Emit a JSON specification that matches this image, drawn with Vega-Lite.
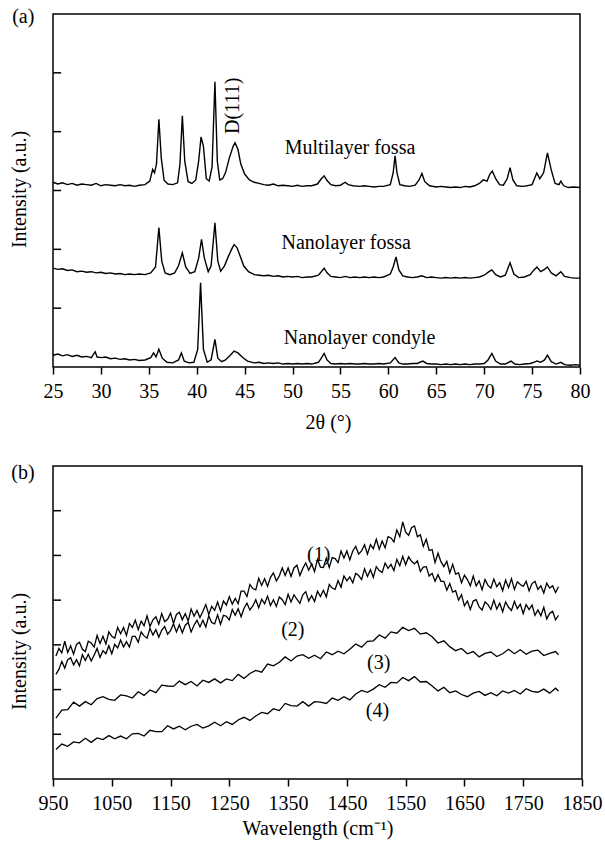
{
"$schema": "https://vega.github.io/schema/vega-lite/v6.json",
"padding": {"left": 8, "top": 6, "right": 5, "bottom": 5},
"spacing": 28,
"config": {
 "font": "Liberation Serif",
 "view": {"stroke": "black", "strokeWidth": 1.5},
 "axis": {"labelFont": "Liberation Serif", "titleFont": "Liberation Serif", "labelFontSize": 20, "titleFontSize": 20, "titleFontWeight": "normal", "labelColor": "black", "titleColor": "black", "domain": false, "tickColor": "black", "tickWidth": 1.5, "grid": false, "labelFlush": false, "labelOverlap": false},
 "text": {"font": "Liberation Serif", "fontSize": 20, "color": "black"}
},
"datasets": {
"xrd": [
{"s":"m","x":25,"y":3.14},{"s":"m","x":25.5,"y":3.11},{"s":"m","x":26,"y":3.13},{"s":"m","x":26.5,"y":3.10},{"s":"m","x":27,"y":3.12},{"s":"m","x":27.5,"y":3.09},{"s":"m","x":28,"y":3.11},{"s":"m","x":28.5,"y":3.10},{"s":"m","x":29,"y":3.09},{"s":"m","x":29.5,"y":3.12},{"s":"m","x":30,"y":3.08},{"s":"m","x":30.5,"y":3.10},{"s":"m","x":31,"y":3.09},{"s":"m","x":31.5,"y":3.08},{"s":"m","x":32,"y":3.10},{"s":"m","x":32.5,"y":3.08},{"s":"m","x":33,"y":3.09},{"s":"m","x":33.5,"y":3.07},{"s":"m","x":34,"y":3.09},{"s":"m","x":34.6,"y":3.10},{"s":"m","x":35.1,"y":3.16},{"s":"m","x":35.4,"y":3.36},{"s":"m","x":35.6,"y":3.30},{"s":"m","x":35.8,"y":3.45},{"s":"m","x":36.05,"y":4.21},{"s":"m","x":36.3,"y":3.55},{"s":"m","x":36.6,"y":3.17},{"s":"m","x":37,"y":3.11},{"s":"m","x":37.5,"y":3.10},{"s":"m","x":38.0,"y":3.13},{"s":"m","x":38.25,"y":3.45},{"s":"m","x":38.5,"y":4.27},{"s":"m","x":38.75,"y":3.50},{"s":"m","x":39.1,"y":3.15},{"s":"m","x":39.5,"y":3.12},{"s":"m","x":39.9,"y":3.18},{"s":"m","x":40.2,"y":3.50},{"s":"m","x":40.45,"y":3.91},{"s":"m","x":40.7,"y":3.75},{"s":"m","x":41.0,"y":3.20},{"s":"m","x":41.3,"y":3.16},{"s":"m","x":41.6,"y":3.40},{"s":"m","x":41.9,"y":4.85},{"s":"m","x":42.15,"y":3.50},{"s":"m","x":42.4,"y":3.18},{"s":"m","x":42.7,"y":3.20},{"s":"m","x":43.0,"y":3.30},{"s":"m","x":43.4,"y":3.55},{"s":"m","x":43.8,"y":3.75},{"s":"m","x":44.0,"y":3.81},{"s":"m","x":44.3,"y":3.70},{"s":"m","x":44.6,"y":3.45},{"s":"m","x":45.0,"y":3.28},{"s":"m","x":45.5,"y":3.18},{"s":"m","x":46,"y":3.14},{"s":"m","x":46.5,"y":3.12},{"s":"m","x":47,"y":3.10},{"s":"m","x":47.5,"y":3.09},{"s":"m","x":48,"y":3.11},{"s":"m","x":48.5,"y":3.08},{"s":"m","x":49,"y":3.09},{"s":"m","x":49.5,"y":3.08},{"s":"m","x":50,"y":3.07},{"s":"m","x":50.5,"y":3.09},{"s":"m","x":51,"y":3.07},{"s":"m","x":51.5,"y":3.08},{"s":"m","x":52,"y":3.08},{"s":"m","x":52.6,"y":3.11},{"s":"m","x":53.0,"y":3.20},{"s":"m","x":53.3,"y":3.25},{"s":"m","x":53.6,"y":3.17},{"s":"m","x":54,"y":3.10},{"s":"m","x":54.5,"y":3.08},{"s":"m","x":55,"y":3.09},{"s":"m","x":55.5,"y":3.14},{"s":"m","x":55.8,"y":3.10},{"s":"m","x":56.3,"y":3.08},{"s":"m","x":57,"y":3.07},{"s":"m","x":57.5,"y":3.08},{"s":"m","x":58,"y":3.07},{"s":"m","x":58.5,"y":3.06},{"s":"m","x":59,"y":3.07},{"s":"m","x":59.5,"y":3.07},{"s":"m","x":60.2,"y":3.10},{"s":"m","x":60.5,"y":3.30},{"s":"m","x":60.7,"y":3.59},{"s":"m","x":60.9,"y":3.30},{"s":"m","x":61.2,"y":3.10},{"s":"m","x":61.7,"y":3.08},{"s":"m","x":62.2,"y":3.07},{"s":"m","x":62.8,"y":3.09},{"s":"m","x":63.2,"y":3.18},{"s":"m","x":63.5,"y":3.29},{"s":"m","x":63.8,"y":3.15},{"s":"m","x":64.3,"y":3.08},{"s":"m","x":65,"y":3.06},{"s":"m","x":65.5,"y":3.07},{"s":"m","x":66,"y":3.06},{"s":"m","x":66.5,"y":3.05},{"s":"m","x":67,"y":3.06},{"s":"m","x":67.5,"y":3.05},{"s":"m","x":68,"y":3.07},{"s":"m","x":68.5,"y":3.06},{"s":"m","x":69,"y":3.08},{"s":"m","x":69.5,"y":3.12},{"s":"m","x":69.9,"y":3.18},{"s":"m","x":70.3,"y":3.16},{"s":"m","x":70.6,"y":3.28},{"s":"m","x":70.85,"y":3.33},{"s":"m","x":71.2,"y":3.20},{"s":"m","x":71.6,"y":3.10},{"s":"m","x":72,"y":3.09},{"s":"m","x":72.4,"y":3.20},{"s":"m","x":72.7,"y":3.39},{"s":"m","x":73.0,"y":3.18},{"s":"m","x":73.4,"y":3.08},{"s":"m","x":74,"y":3.07},{"s":"m","x":74.5,"y":3.08},{"s":"m","x":75,"y":3.10},{"s":"m","x":75.3,"y":3.22},{"s":"m","x":75.5,"y":3.30},{"s":"m","x":75.8,"y":3.20},{"s":"m","x":76.2,"y":3.30},{"s":"m","x":76.6,"y":3.64},{"s":"m","x":77.0,"y":3.35},{"s":"m","x":77.4,"y":3.12},{"s":"m","x":77.8,"y":3.10},{"s":"m","x":78.0,"y":3.16},{"s":"m","x":78.3,"y":3.08},{"s":"m","x":78.8,"y":3.05},{"s":"m","x":79.3,"y":3.06},{"s":"m","x":80,"y":3.05},
{"s":"n","x":25,"y":1.68},{"s":"n","x":25.5,"y":1.66},{"s":"n","x":26,"y":1.67},{"s":"n","x":26.5,"y":1.64},{"s":"n","x":27,"y":1.65},{"s":"n","x":27.5,"y":1.62},{"s":"n","x":28,"y":1.63},{"s":"n","x":28.5,"y":1.61},{"s":"n","x":29,"y":1.62},{"s":"n","x":29.5,"y":1.60},{"s":"n","x":30,"y":1.61},{"s":"n","x":30.5,"y":1.59},{"s":"n","x":31,"y":1.60},{"s":"n","x":31.5,"y":1.58},{"s":"n","x":32,"y":1.59},{"s":"n","x":32.5,"y":1.57},{"s":"n","x":33,"y":1.58},{"s":"n","x":33.5,"y":1.57},{"s":"n","x":34,"y":1.58},{"s":"n","x":34.6,"y":1.57},{"s":"n","x":35.2,"y":1.60},{"s":"n","x":35.7,"y":1.70},{"s":"n","x":36.05,"y":2.37},{"s":"n","x":36.35,"y":1.80},{"s":"n","x":36.7,"y":1.60},{"s":"n","x":37.2,"y":1.57},{"s":"n","x":37.7,"y":1.60},{"s":"n","x":38.1,"y":1.72},{"s":"n","x":38.5,"y":1.94},{"s":"n","x":38.85,"y":1.70},{"s":"n","x":39.3,"y":1.59},{"s":"n","x":39.8,"y":1.62},{"s":"n","x":40.2,"y":1.85},{"s":"n","x":40.5,"y":2.17},{"s":"n","x":40.8,"y":1.85},{"s":"n","x":41.2,"y":1.62},{"s":"n","x":41.5,"y":1.72},{"s":"n","x":41.9,"y":2.45},{"s":"n","x":42.2,"y":1.80},{"s":"n","x":42.5,"y":1.63},{"s":"n","x":42.9,"y":1.72},{"s":"n","x":43.3,"y":1.88},{"s":"n","x":43.7,"y":2.02},{"s":"n","x":43.9,"y":2.08},{"s":"n","x":44.2,"y":2.03},{"s":"n","x":44.5,"y":1.90},{"s":"n","x":44.9,"y":1.72},{"s":"n","x":45.4,"y":1.62},{"s":"n","x":46,"y":1.57},{"s":"n","x":46.5,"y":1.56},{"s":"n","x":47,"y":1.55},{"s":"n","x":47.5,"y":1.56},{"s":"n","x":48,"y":1.54},{"s":"n","x":48.5,"y":1.55},{"s":"n","x":49,"y":1.53},{"s":"n","x":49.5,"y":1.54},{"s":"n","x":50,"y":1.53},{"s":"n","x":50.5,"y":1.54},{"s":"n","x":51,"y":1.52},{"s":"n","x":51.5,"y":1.53},{"s":"n","x":52,"y":1.53},{"s":"n","x":52.7,"y":1.56},{"s":"n","x":53.0,"y":1.62},{"s":"n","x":53.3,"y":1.68},{"s":"n","x":53.6,"y":1.60},{"s":"n","x":54,"y":1.54},{"s":"n","x":54.5,"y":1.53},{"s":"n","x":55,"y":1.52},{"s":"n","x":55.5,"y":1.54},{"s":"n","x":56,"y":1.52},{"s":"n","x":56.5,"y":1.53},{"s":"n","x":57,"y":1.52},{"s":"n","x":57.5,"y":1.53},{"s":"n","x":58,"y":1.52},{"s":"n","x":58.5,"y":1.53},{"s":"n","x":59,"y":1.52},{"s":"n","x":59.5,"y":1.53},{"s":"n","x":60.2,"y":1.58},{"s":"n","x":60.5,"y":1.70},{"s":"n","x":60.8,"y":1.87},{"s":"n","x":61.1,"y":1.65},{"s":"n","x":61.5,"y":1.55},{"s":"n","x":62,"y":1.53},{"s":"n","x":62.5,"y":1.52},{"s":"n","x":63,"y":1.53},{"s":"n","x":63.5,"y":1.55},{"s":"n","x":64,"y":1.52},{"s":"n","x":64.5,"y":1.53},{"s":"n","x":65,"y":1.52},{"s":"n","x":65.5,"y":1.51},{"s":"n","x":66,"y":1.52},{"s":"n","x":66.5,"y":1.51},{"s":"n","x":67,"y":1.52},{"s":"n","x":67.5,"y":1.51},{"s":"n","x":68,"y":1.52},{"s":"n","x":68.5,"y":1.51},{"s":"n","x":69,"y":1.52},{"s":"n","x":69.5,"y":1.53},{"s":"n","x":70,"y":1.56},{"s":"n","x":70.5,"y":1.62},{"s":"n","x":70.8,"y":1.65},{"s":"n","x":71.2,"y":1.57},{"s":"n","x":71.7,"y":1.53},{"s":"n","x":72.2,"y":1.56},{"s":"n","x":72.7,"y":1.77},{"s":"n","x":73.1,"y":1.58},{"s":"n","x":73.6,"y":1.52},{"s":"n","x":74.2,"y":1.53},{"s":"n","x":74.8,"y":1.57},{"s":"n","x":75.2,"y":1.65},{"s":"n","x":75.5,"y":1.70},{"s":"n","x":75.9,"y":1.62},{"s":"n","x":76.3,"y":1.66},{"s":"n","x":76.6,"y":1.70},{"s":"n","x":77.0,"y":1.60},{"s":"n","x":77.5,"y":1.55},{"s":"n","x":78.0,"y":1.62},{"s":"n","x":78.4,"y":1.54},{"s":"n","x":79,"y":1.52},{"s":"n","x":79.5,"y":1.51},{"s":"n","x":80,"y":1.51},
{"s":"c","x":25,"y":0.20},{"s":"c","x":25.5,"y":0.22},{"s":"c","x":26,"y":0.19},{"s":"c","x":26.5,"y":0.21},{"s":"c","x":27,"y":0.18},{"s":"c","x":27.5,"y":0.20},{"s":"c","x":28,"y":0.17},{"s":"c","x":28.5,"y":0.18},{"s":"c","x":29,"y":0.16},{"s":"c","x":29.4,"y":0.26},{"s":"c","x":29.6,"y":0.17},{"s":"c","x":30,"y":0.16},{"s":"c","x":30.5,"y":0.17},{"s":"c","x":31,"y":0.14},{"s":"c","x":31.5,"y":0.15},{"s":"c","x":32,"y":0.13},{"s":"c","x":32.5,"y":0.14},{"s":"c","x":33,"y":0.12},{"s":"c","x":33.5,"y":0.13},{"s":"c","x":34,"y":0.11},{"s":"c","x":34.6,"y":0.12},{"s":"c","x":35.2,"y":0.16},{"s":"c","x":35.5,"y":0.24},{"s":"c","x":35.75,"y":0.17},{"s":"c","x":36.05,"y":0.30},{"s":"c","x":36.4,"y":0.15},{"s":"c","x":36.9,"y":0.08},{"s":"c","x":37.5,"y":0.07},{"s":"c","x":38.1,"y":0.12},{"s":"c","x":38.4,"y":0.24},{"s":"c","x":38.7,"y":0.10},{"s":"c","x":39.2,"y":0.07},{"s":"c","x":39.7,"y":0.08},{"s":"c","x":40.1,"y":0.30},{"s":"c","x":40.4,"y":1.43},{"s":"c","x":40.7,"y":0.30},{"s":"c","x":41.1,"y":0.08},{"s":"c","x":41.5,"y":0.12},{"s":"c","x":41.9,"y":0.47},{"s":"c","x":42.2,"y":0.15},{"s":"c","x":42.6,"y":0.09},{"s":"c","x":43.0,"y":0.12},{"s":"c","x":43.5,"y":0.20},{"s":"c","x":43.9,"y":0.27},{"s":"c","x":44.3,"y":0.24},{"s":"c","x":44.8,"y":0.16},{"s":"c","x":45.3,"y":0.10},{"s":"c","x":46,"y":0.07},{"s":"c","x":46.5,"y":0.08},{"s":"c","x":47,"y":0.06},{"s":"c","x":47.5,"y":0.07},{"s":"c","x":48,"y":0.06},{"s":"c","x":48.5,"y":0.07},{"s":"c","x":49,"y":0.05},{"s":"c","x":49.5,"y":0.06},{"s":"c","x":50,"y":0.05},{"s":"c","x":50.5,"y":0.06},{"s":"c","x":51,"y":0.05},{"s":"c","x":51.5,"y":0.06},{"s":"c","x":52,"y":0.05},{"s":"c","x":52.7,"y":0.08},{"s":"c","x":53.0,"y":0.15},{"s":"c","x":53.3,"y":0.23},{"s":"c","x":53.6,"y":0.12},{"s":"c","x":54,"y":0.06},{"s":"c","x":54.5,"y":0.05},{"s":"c","x":55,"y":0.06},{"s":"c","x":55.5,"y":0.05},{"s":"c","x":56,"y":0.06},{"s":"c","x":56.5,"y":0.05},{"s":"c","x":57,"y":0.05},{"s":"c","x":57.5,"y":0.06},{"s":"c","x":58,"y":0.05},{"s":"c","x":58.5,"y":0.05},{"s":"c","x":59,"y":0.06},{"s":"c","x":59.5,"y":0.05},{"s":"c","x":60.2,"y":0.07},{"s":"c","x":60.7,"y":0.16},{"s":"c","x":61.1,"y":0.07},{"s":"c","x":61.5,"y":0.05},{"s":"c","x":62,"y":0.05},{"s":"c","x":62.5,"y":0.06},{"s":"c","x":63,"y":0.06},{"s":"c","x":63.6,"y":0.10},{"s":"c","x":64,"y":0.06},{"s":"c","x":64.5,"y":0.05},{"s":"c","x":65,"y":0.05},{"s":"c","x":65.5,"y":0.04},{"s":"c","x":66,"y":0.05},{"s":"c","x":66.5,"y":0.04},{"s":"c","x":67,"y":0.05},{"s":"c","x":67.5,"y":0.04},{"s":"c","x":68,"y":0.05},{"s":"c","x":68.5,"y":0.04},{"s":"c","x":69,"y":0.05},{"s":"c","x":69.5,"y":0.05},{"s":"c","x":70,"y":0.06},{"s":"c","x":70.4,"y":0.12},{"s":"c","x":70.8,"y":0.23},{"s":"c","x":71.2,"y":0.10},{"s":"c","x":71.7,"y":0.05},{"s":"c","x":72.2,"y":0.05},{"s":"c","x":72.8,"y":0.10},{"s":"c","x":73.2,"y":0.05},{"s":"c","x":73.7,"y":0.04},{"s":"c","x":74.2,"y":0.05},{"s":"c","x":74.8,"y":0.06},{"s":"c","x":75.2,"y":0.08},{"s":"c","x":75.5,"y":0.10},{"s":"c","x":75.9,"y":0.08},{"s":"c","x":76.3,"y":0.12},{"s":"c","x":76.6,"y":0.20},{"s":"c","x":77.0,"y":0.09},{"s":"c","x":77.5,"y":0.05},{"s":"c","x":78.0,"y":0.08},{"s":"c","x":78.4,"y":0.04},{"s":"c","x":79,"y":0.03},{"s":"c","x":79.5,"y":0.04},{"s":"c","x":80,"y":0.03}
],
"raman": [
{"s":"1","x":955,"y":2.75},{"s":"1","x":960,"y":2.92},{"s":"1","x":965,"y":2.82},{"s":"1","x":970,"y":3.08},{"s":"1","x":975,"y":2.83},{"s":"1","x":980,"y":2.98},{"s":"1","x":985,"y":2.79},{"s":"1","x":990,"y":3.01},{"s":"1","x":995,"y":3.06},{"s":"1","x":1000,"y":2.90},{"s":"1","x":1005,"y":2.85},{"s":"1","x":1010,"y":3.08},{"s":"1","x":1015,"y":3.04},{"s":"1","x":1020,"y":2.95},{"s":"1","x":1025,"y":3.21},{"s":"1","x":1030,"y":3.03},{"s":"1","x":1035,"y":3.19},{"s":"1","x":1040,"y":3.02},{"s":"1","x":1045,"y":3.29},{"s":"1","x":1050,"y":3.19},{"s":"1","x":1055,"y":3.15},{"s":"1","x":1060,"y":3.39},{"s":"1","x":1065,"y":3.25},{"s":"1","x":1070,"y":3.39},{"s":"1","x":1075,"y":3.21},{"s":"1","x":1080,"y":3.48},{"s":"1","x":1085,"y":3.39},{"s":"1","x":1090,"y":3.55},{"s":"1","x":1095,"y":3.34},{"s":"1","x":1100,"y":3.53},{"s":"1","x":1105,"y":3.43},{"s":"1","x":1110,"y":3.65},{"s":"1","x":1115,"y":3.41},{"s":"1","x":1120,"y":3.56},{"s":"1","x":1125,"y":3.63},{"s":"1","x":1130,"y":3.46},{"s":"1","x":1135,"y":3.70},{"s":"1","x":1140,"y":3.52},{"s":"1","x":1145,"y":3.57},{"s":"1","x":1150,"y":3.71},{"s":"1","x":1155,"y":3.48},{"s":"1","x":1160,"y":3.68},{"s":"1","x":1165,"y":3.73},{"s":"1","x":1170,"y":3.56},{"s":"1","x":1175,"y":3.70},{"s":"1","x":1180,"y":3.53},{"s":"1","x":1185,"y":3.80},{"s":"1","x":1190,"y":3.64},{"s":"1","x":1195,"y":3.77},{"s":"1","x":1200,"y":3.61},{"s":"1","x":1205,"y":3.75},{"s":"1","x":1210,"y":3.90},{"s":"1","x":1215,"y":3.68},{"s":"1","x":1220,"y":3.86},{"s":"1","x":1225,"y":3.77},{"s":"1","x":1230,"y":3.96},{"s":"1","x":1235,"y":3.76},{"s":"1","x":1240,"y":3.98},{"s":"1","x":1245,"y":3.89},{"s":"1","x":1250,"y":4.08},{"s":"1","x":1255,"y":3.91},{"s":"1","x":1260,"y":4.04},{"s":"1","x":1265,"y":3.92},{"s":"1","x":1270,"y":4.20},{"s":"1","x":1275,"y":4.20},{"s":"1","x":1280,"y":4.08},{"s":"1","x":1285,"y":4.35},{"s":"1","x":1290,"y":4.26},{"s":"1","x":1295,"y":4.23},{"s":"1","x":1300,"y":4.49},{"s":"1","x":1305,"y":4.33},{"s":"1","x":1310,"y":4.48},{"s":"1","x":1315,"y":4.31},{"s":"1","x":1320,"y":4.51},{"s":"1","x":1325,"y":4.61},{"s":"1","x":1330,"y":4.43},{"s":"1","x":1335,"y":4.54},{"s":"1","x":1340,"y":4.72},{"s":"1","x":1345,"y":4.55},{"s":"1","x":1350,"y":4.72},{"s":"1","x":1355,"y":4.53},{"s":"1","x":1360,"y":4.72},{"s":"1","x":1365,"y":4.78},{"s":"1","x":1370,"y":4.55},{"s":"1","x":1375,"y":4.71},{"s":"1","x":1380,"y":4.83},{"s":"1","x":1385,"y":4.67},{"s":"1","x":1390,"y":4.81},{"s":"1","x":1395,"y":4.64},{"s":"1","x":1400,"y":4.91},{"s":"1","x":1405,"y":4.74},{"s":"1","x":1410,"y":4.73},{"s":"1","x":1415,"y":4.94},{"s":"1","x":1420,"y":4.73},{"s":"1","x":1425,"y":4.95},{"s":"1","x":1430,"y":4.93},{"s":"1","x":1435,"y":4.84},{"s":"1","x":1440,"y":5.10},{"s":"1","x":1445,"y":4.94},{"s":"1","x":1450,"y":5.10},{"s":"1","x":1455,"y":4.90},{"s":"1","x":1460,"y":5.10},{"s":"1","x":1465,"y":5.20},{"s":"1","x":1470,"y":5.03},{"s":"1","x":1475,"y":5.10},{"s":"1","x":1480,"y":5.24},{"s":"1","x":1485,"y":5.03},{"s":"1","x":1490,"y":5.24},{"s":"1","x":1495,"y":5.15},{"s":"1","x":1500,"y":5.36},{"s":"1","x":1505,"y":5.14},{"s":"1","x":1510,"y":5.32},{"s":"1","x":1515,"y":5.17},{"s":"1","x":1520,"y":5.42},{"s":"1","x":1525,"y":5.39},{"s":"1","x":1530,"y":5.30},{"s":"1","x":1535,"y":5.57},{"s":"1","x":1540,"y":5.42},{"s":"1","x":1545,"y":5.75},{"s":"1","x":1550,"y":5.52},{"s":"1","x":1555,"y":5.45},{"s":"1","x":1560,"y":5.62},{"s":"1","x":1565,"y":5.66},{"s":"1","x":1570,"y":5.42},{"s":"1","x":1575,"y":5.46},{"s":"1","x":1580,"y":5.20},{"s":"1","x":1585,"y":5.36},{"s":"1","x":1590,"y":5.11},{"s":"1","x":1595,"y":5.13},{"s":"1","x":1600,"y":4.84},{"s":"1","x":1605,"y":5.05},{"s":"1","x":1610,"y":4.86},{"s":"1","x":1615,"y":4.75},{"s":"1","x":1620,"y":4.87},{"s":"1","x":1625,"y":4.61},{"s":"1","x":1630,"y":4.80},{"s":"1","x":1635,"y":4.58},{"s":"1","x":1640,"y":4.61},{"s":"1","x":1645,"y":4.39},{"s":"1","x":1650,"y":4.56},{"s":"1","x":1655,"y":4.46},{"s":"1","x":1660,"y":4.32},{"s":"1","x":1665,"y":4.54},{"s":"1","x":1670,"y":4.32},{"s":"1","x":1675,"y":4.43},{"s":"1","x":1680,"y":4.23},{"s":"1","x":1685,"y":4.46},{"s":"1","x":1690,"y":4.33},{"s":"1","x":1695,"y":4.27},{"s":"1","x":1700,"y":4.47},{"s":"1","x":1705,"y":4.30},{"s":"1","x":1710,"y":4.39},{"s":"1","x":1715,"y":4.21},{"s":"1","x":1720,"y":4.45},{"s":"1","x":1725,"y":4.28},{"s":"1","x":1730,"y":4.48},{"s":"1","x":1735,"y":4.24},{"s":"1","x":1740,"y":4.41},{"s":"1","x":1745,"y":4.35},{"s":"1","x":1750,"y":4.31},{"s":"1","x":1755,"y":4.42},{"s":"1","x":1760,"y":4.21},{"s":"1","x":1765,"y":4.37},{"s":"1","x":1770,"y":4.42},{"s":"1","x":1775,"y":4.24},{"s":"1","x":1780,"y":4.32},{"s":"1","x":1785,"y":4.16},{"s":"1","x":1790,"y":4.38},{"s":"1","x":1795,"y":4.27},{"s":"1","x":1800,"y":4.32},{"s":"1","x":1805,"y":4.17},{"s":"1","x":1810,"y":4.30},
{"s":"2","x":955,"y":2.34},{"s":"2","x":960,"y":2.45},{"s":"2","x":965,"y":2.63},{"s":"2","x":970,"y":2.48},{"s":"2","x":975,"y":2.67},{"s":"2","x":980,"y":2.71},{"s":"2","x":985,"y":2.55},{"s":"2","x":990,"y":2.67},{"s":"2","x":995,"y":2.53},{"s":"2","x":1000,"y":2.78},{"s":"2","x":1005,"y":2.65},{"s":"2","x":1010,"y":2.79},{"s":"2","x":1015,"y":2.64},{"s":"2","x":1020,"y":2.77},{"s":"2","x":1025,"y":2.92},{"s":"2","x":1030,"y":2.72},{"s":"2","x":1035,"y":2.87},{"s":"2","x":1040,"y":2.80},{"s":"2","x":1045,"y":2.98},{"s":"2","x":1050,"y":2.80},{"s":"2","x":1055,"y":3.01},{"s":"2","x":1060,"y":2.93},{"s":"2","x":1065,"y":3.11},{"s":"2","x":1070,"y":2.95},{"s":"2","x":1075,"y":3.07},{"s":"2","x":1080,"y":2.95},{"s":"2","x":1085,"y":3.19},{"s":"2","x":1090,"y":3.19},{"s":"2","x":1095,"y":3.06},{"s":"2","x":1100,"y":3.29},{"s":"2","x":1105,"y":3.20},{"s":"2","x":1110,"y":3.15},{"s":"2","x":1115,"y":3.37},{"s":"2","x":1120,"y":3.22},{"s":"2","x":1125,"y":3.34},{"s":"2","x":1130,"y":3.17},{"s":"2","x":1135,"y":3.33},{"s":"2","x":1140,"y":3.41},{"s":"2","x":1145,"y":3.24},{"s":"2","x":1150,"y":3.32},{"s":"2","x":1155,"y":3.47},{"s":"2","x":1160,"y":3.29},{"s":"2","x":1165,"y":3.45},{"s":"2","x":1170,"y":3.27},{"s":"2","x":1175,"y":3.44},{"s":"2","x":1180,"y":3.50},{"s":"2","x":1185,"y":3.29},{"s":"2","x":1190,"y":3.44},{"s":"2","x":1195,"y":3.55},{"s":"2","x":1200,"y":3.40},{"s":"2","x":1205,"y":3.55},{"s":"2","x":1210,"y":3.40},{"s":"2","x":1215,"y":3.65},{"s":"2","x":1220,"y":3.50},{"s":"2","x":1225,"y":3.47},{"s":"2","x":1230,"y":3.67},{"s":"2","x":1235,"y":3.46},{"s":"2","x":1240,"y":3.66},{"s":"2","x":1245,"y":3.64},{"s":"2","x":1250,"y":3.56},{"s":"2","x":1255,"y":3.79},{"s":"2","x":1260,"y":3.66},{"s":"2","x":1265,"y":3.81},{"s":"2","x":1270,"y":3.63},{"s":"2","x":1275,"y":3.82},{"s":"2","x":1280,"y":3.93},{"s":"2","x":1285,"y":3.78},{"s":"2","x":1290,"y":3.87},{"s":"2","x":1295,"y":4.01},{"s":"2","x":1300,"y":3.83},{"s":"2","x":1305,"y":4.02},{"s":"2","x":1310,"y":3.92},{"s":"2","x":1315,"y":4.09},{"s":"2","x":1320,"y":3.88},{"s":"2","x":1325,"y":4.01},{"s":"2","x":1330,"y":3.86},{"s":"2","x":1335,"y":4.07},{"s":"2","x":1340,"y":4.01},{"s":"2","x":1345,"y":3.90},{"s":"2","x":1350,"y":4.13},{"s":"2","x":1355,"y":3.96},{"s":"2","x":1360,"y":4.12},{"s":"2","x":1365,"y":4.02},{"s":"2","x":1370,"y":3.93},{"s":"2","x":1375,"y":4.12},{"s":"2","x":1380,"y":4.19},{"s":"2","x":1385,"y":3.98},{"s":"2","x":1390,"y":4.10},{"s":"2","x":1395,"y":3.97},{"s":"2","x":1400,"y":4.20},{"s":"2","x":1405,"y":4.08},{"s":"2","x":1410,"y":4.22},{"s":"2","x":1415,"y":4.07},{"s":"2","x":1420,"y":4.35},{"s":"2","x":1425,"y":4.27},{"s":"2","x":1430,"y":4.24},{"s":"2","x":1435,"y":4.44},{"s":"2","x":1440,"y":4.29},{"s":"2","x":1445,"y":4.54},{"s":"2","x":1450,"y":4.43},{"s":"2","x":1455,"y":4.52},{"s":"2","x":1460,"y":4.39},{"s":"2","x":1465,"y":4.60},{"s":"2","x":1470,"y":4.55},{"s":"2","x":1475,"y":4.46},{"s":"2","x":1480,"y":4.70},{"s":"2","x":1485,"y":4.53},{"s":"2","x":1490,"y":4.68},{"s":"2","x":1495,"y":4.51},{"s":"2","x":1500,"y":4.75},{"s":"2","x":1505,"y":4.66},{"s":"2","x":1510,"y":4.62},{"s":"2","x":1515,"y":4.83},{"s":"2","x":1520,"y":4.71},{"s":"2","x":1525,"y":4.80},{"s":"2","x":1530,"y":4.66},{"s":"2","x":1535,"y":4.91},{"s":"2","x":1540,"y":4.77},{"s":"2","x":1545,"y":4.98},{"s":"2","x":1550,"y":4.79},{"s":"2","x":1555,"y":4.97},{"s":"2","x":1560,"y":4.87},{"s":"2","x":1565,"y":4.81},{"s":"2","x":1570,"y":4.88},{"s":"2","x":1575,"y":4.64},{"s":"2","x":1580,"y":4.74},{"s":"2","x":1585,"y":4.75},{"s":"2","x":1590,"y":4.54},{"s":"2","x":1595,"y":4.60},{"s":"2","x":1600,"y":4.42},{"s":"2","x":1605,"y":4.57},{"s":"2","x":1610,"y":4.42},{"s":"2","x":1615,"y":4.42},{"s":"2","x":1620,"y":4.22},{"s":"2","x":1625,"y":4.37},{"s":"2","x":1630,"y":4.18},{"s":"2","x":1635,"y":4.21},{"s":"2","x":1640,"y":4.00},{"s":"2","x":1645,"y":4.12},{"s":"2","x":1650,"y":3.87},{"s":"2","x":1655,"y":3.98},{"s":"2","x":1660,"y":3.79},{"s":"2","x":1665,"y":3.98},{"s":"2","x":1670,"y":4.01},{"s":"2","x":1675,"y":3.85},{"s":"2","x":1680,"y":3.78},{"s":"2","x":1685,"y":3.96},{"s":"2","x":1690,"y":3.90},{"s":"2","x":1695,"y":3.79},{"s":"2","x":1700,"y":4.00},{"s":"2","x":1705,"y":3.80},{"s":"2","x":1710,"y":3.93},{"s":"2","x":1715,"y":3.74},{"s":"2","x":1720,"y":3.96},{"s":"2","x":1725,"y":3.84},{"s":"2","x":1730,"y":3.77},{"s":"2","x":1735,"y":3.97},{"s":"2","x":1740,"y":3.81},{"s":"2","x":1745,"y":3.91},{"s":"2","x":1750,"y":3.70},{"s":"2","x":1755,"y":3.90},{"s":"2","x":1760,"y":3.79},{"s":"2","x":1765,"y":3.89},{"s":"2","x":1770,"y":3.66},{"s":"2","x":1775,"y":3.78},{"s":"2","x":1780,"y":3.65},{"s":"2","x":1785,"y":3.84},{"s":"2","x":1790,"y":3.58},{"s":"2","x":1795,"y":3.70},{"s":"2","x":1800,"y":3.75},{"s":"2","x":1805,"y":3.56},{"s":"2","x":1810,"y":3.66},
{"s":"3","x":955,"y":1.36},{"s":"3","x":965,"y":1.54},{"s":"3","x":975,"y":1.55},{"s":"3","x":985,"y":1.72},{"s":"3","x":995,"y":1.63},{"s":"3","x":1005,"y":1.73},{"s":"3","x":1015,"y":1.66},{"s":"3","x":1025,"y":1.80},{"s":"3","x":1035,"y":1.84},{"s":"3","x":1045,"y":1.78},{"s":"3","x":1055,"y":1.76},{"s":"3","x":1065,"y":1.88},{"s":"3","x":1075,"y":1.86},{"s":"3","x":1085,"y":1.81},{"s":"3","x":1095,"y":1.95},{"s":"3","x":1105,"y":1.87},{"s":"3","x":1115,"y":1.99},{"s":"3","x":1125,"y":1.93},{"s":"3","x":1135,"y":2.10},{"s":"3","x":1145,"y":2.08},{"s":"3","x":1155,"y":2.07},{"s":"3","x":1165,"y":2.19},{"s":"3","x":1175,"y":2.11},{"s":"3","x":1185,"y":2.18},{"s":"3","x":1195,"y":2.08},{"s":"3","x":1205,"y":2.21},{"s":"3","x":1215,"y":2.16},{"s":"3","x":1225,"y":2.24},{"s":"3","x":1235,"y":2.15},{"s":"3","x":1245,"y":2.24},{"s":"3","x":1255,"y":2.20},{"s":"3","x":1265,"y":2.34},{"s":"3","x":1275,"y":2.25},{"s":"3","x":1285,"y":2.36},{"s":"3","x":1295,"y":2.43},{"s":"3","x":1305,"y":2.39},{"s":"3","x":1315,"y":2.57},{"s":"3","x":1325,"y":2.53},{"s":"3","x":1335,"y":2.61},{"s":"3","x":1345,"y":2.73},{"s":"3","x":1355,"y":2.64},{"s":"3","x":1365,"y":2.75},{"s":"3","x":1375,"y":2.78},{"s":"3","x":1385,"y":2.70},{"s":"3","x":1395,"y":2.77},{"s":"3","x":1405,"y":2.69},{"s":"3","x":1415,"y":2.84},{"s":"3","x":1425,"y":2.78},{"s":"3","x":1435,"y":2.86},{"s":"3","x":1445,"y":2.80},{"s":"3","x":1455,"y":2.90},{"s":"3","x":1465,"y":3.02},{"s":"3","x":1475,"y":2.95},{"s":"3","x":1485,"y":3.08},{"s":"3","x":1495,"y":3.09},{"s":"3","x":1505,"y":3.22},{"s":"3","x":1515,"y":3.15},{"s":"3","x":1525,"y":3.29},{"s":"3","x":1535,"y":3.26},{"s":"3","x":1545,"y":3.39},{"s":"3","x":1555,"y":3.32},{"s":"3","x":1565,"y":3.37},{"s":"3","x":1575,"y":3.24},{"s":"3","x":1585,"y":3.27},{"s":"3","x":1595,"y":3.18},{"s":"3","x":1605,"y":3.04},{"s":"3","x":1615,"y":3.09},{"s":"3","x":1625,"y":2.96},{"s":"3","x":1635,"y":2.87},{"s":"3","x":1645,"y":2.92},{"s":"3","x":1655,"y":2.80},{"s":"3","x":1665,"y":2.85},{"s":"3","x":1675,"y":2.73},{"s":"3","x":1685,"y":2.81},{"s":"3","x":1695,"y":2.84},{"s":"3","x":1705,"y":2.74},{"s":"3","x":1715,"y":2.80},{"s":"3","x":1725,"y":2.90},{"s":"3","x":1735,"y":2.80},{"s":"3","x":1745,"y":2.89},{"s":"3","x":1755,"y":2.79},{"s":"3","x":1765,"y":2.86},{"s":"3","x":1775,"y":2.88},{"s":"3","x":1785,"y":2.76},{"s":"3","x":1795,"y":2.81},{"s":"3","x":1805,"y":2.85},{"s":"3","x":1810,"y":2.78},
{"s":"4","x":955,"y":0.66},{"s":"4","x":965,"y":0.78},{"s":"4","x":975,"y":0.73},{"s":"4","x":985,"y":0.83},{"s":"4","x":995,"y":0.81},{"s":"4","x":1005,"y":0.91},{"s":"4","x":1015,"y":0.82},{"s":"4","x":1025,"y":0.92},{"s":"4","x":1035,"y":0.88},{"s":"4","x":1045,"y":0.97},{"s":"4","x":1055,"y":0.90},{"s":"4","x":1065,"y":0.96},{"s":"4","x":1075,"y":0.90},{"s":"4","x":1085,"y":1.01},{"s":"4","x":1095,"y":1.02},{"s":"4","x":1105,"y":0.96},{"s":"4","x":1115,"y":1.09},{"s":"4","x":1125,"y":1.06},{"s":"4","x":1135,"y":1.06},{"s":"4","x":1145,"y":1.19},{"s":"4","x":1155,"y":1.12},{"s":"4","x":1165,"y":1.18},{"s":"4","x":1175,"y":1.10},{"s":"4","x":1185,"y":1.18},{"s":"4","x":1195,"y":1.22},{"s":"4","x":1205,"y":1.14},{"s":"4","x":1215,"y":1.19},{"s":"4","x":1225,"y":1.27},{"s":"4","x":1235,"y":1.19},{"s":"4","x":1245,"y":1.28},{"s":"4","x":1255,"y":1.22},{"s":"4","x":1265,"y":1.32},{"s":"4","x":1275,"y":1.38},{"s":"4","x":1285,"y":1.31},{"s":"4","x":1295,"y":1.41},{"s":"4","x":1305,"y":1.49},{"s":"4","x":1315,"y":1.46},{"s":"4","x":1325,"y":1.57},{"s":"4","x":1335,"y":1.53},{"s":"4","x":1345,"y":1.69},{"s":"4","x":1355,"y":1.64},{"s":"4","x":1365,"y":1.63},{"s":"4","x":1375,"y":1.73},{"s":"4","x":1385,"y":1.63},{"s":"4","x":1395,"y":1.73},{"s":"4","x":1405,"y":1.72},{"s":"4","x":1415,"y":1.69},{"s":"4","x":1425,"y":1.81},{"s":"4","x":1435,"y":1.76},{"s":"4","x":1445,"y":1.84},{"s":"4","x":1455,"y":1.77},{"s":"4","x":1465,"y":1.90},{"s":"4","x":1475,"y":1.98},{"s":"4","x":1485,"y":1.94},{"s":"4","x":1495,"y":2.01},{"s":"4","x":1505,"y":2.11},{"s":"4","x":1515,"y":2.05},{"s":"4","x":1525,"y":2.16},{"s":"4","x":1535,"y":2.15},{"s":"4","x":1545,"y":2.27},{"s":"4","x":1555,"y":2.20},{"s":"4","x":1565,"y":2.29},{"s":"4","x":1575,"y":2.17},{"s":"4","x":1585,"y":2.18},{"s":"4","x":1595,"y":2.08},{"s":"4","x":1605,"y":1.97},{"s":"4","x":1615,"y":2.05},{"s":"4","x":1625,"y":1.93},{"s":"4","x":1635,"y":1.97},{"s":"4","x":1645,"y":1.89},{"s":"4","x":1655,"y":1.84},{"s":"4","x":1665,"y":1.92},{"s":"4","x":1675,"y":1.96},{"s":"4","x":1685,"y":1.87},{"s":"4","x":1695,"y":1.93},{"s":"4","x":1705,"y":1.86},{"s":"4","x":1715,"y":1.97},{"s":"4","x":1725,"y":1.92},{"s":"4","x":1735,"y":1.98},{"s":"4","x":1745,"y":1.90},{"s":"4","x":1755,"y":2.02},{"s":"4","x":1765,"y":1.96},{"s":"4","x":1775,"y":1.94},{"s":"4","x":1785,"y":2.01},{"s":"4","x":1795,"y":1.92},{"s":"4","x":1805,"y":2.03},{"s":"4","x":1810,"y":1.97}
]
},
"vconcat": [
{
 "width": 527, "height": 353,
 "layer": [
  {
   "data": {"name": "xrd"},
   "mark": {"type": "line", "color": "black", "strokeWidth": 1.4},
   "encoding": {
    "x": {"field": "x", "type": "quantitative", "scale": {"domain": [25, 80], "nice": false, "zero": false},
      "axis": {"title": "2θ (°)", "values": [25,30,35,40,45,50,55,60,65,70,75,80], "tickSize": 7, "labelPadding": 7, "titleX": 275, "titleY": 55, "titleBaseline": "middle"}},
    "y": {"field": "y", "type": "quantitative", "scale": {"domain": [0, 6], "nice": false, "zero": false},
      "axis": {"title": "Intensity (a.u.)", "values": [1,2,3,4,5], "labels": false, "ticks": false, "titleX": -34, "titleY": 175, "titleBaseline": "middle"}},
    "detail": {"field": "s"}
   }
  },
  {
   "data": {"values": [{"v": 1}, {"v": 2}, {"v": 3}, {"v": 4}, {"v": 5}]},
   "mark": {"type": "rule", "color": "black", "strokeWidth": 1.5},
   "encoding": {
    "y": {"field": "v", "type": "quantitative"},
    "x": {"datum": 25},
    "x2": {"datum": 25.85}
   }
  },
  {
   "data": {"values": [
    {"t": "Multilayer fossa", "x": 56.0, "y": 3.73},
    {"t": "Nanolayer fossa", "x": 55.6, "y": 2.11},
    {"t": "Nanolayer condyle", "x": 57.0, "y": 0.5},
    {"t": "(a)", "x": 21.9, "y": 5.95}
   ]},
   "mark": {"type": "text", "align": "center", "baseline": "middle", "font": "Liberation Serif", "fontSize": 20},
   "encoding": {
    "x": {"field": "x", "type": "quantitative"},
    "y": {"field": "y", "type": "quantitative"},
    "text": {"field": "t"}
   }
  },
  {
   "data": {"values": [{"t": "D(111)", "x": 43.8, "y": 4.44}]},
   "mark": {"type": "text", "align": "center", "baseline": "middle", "angle": 270, "font": "Liberation Serif", "fontSize": 20},
   "encoding": {
    "x": {"field": "x", "type": "quantitative"},
    "y": {"field": "y", "type": "quantitative"},
    "text": {"field": "t"}
   }
  }
 ]
},
{
 "width": 529, "height": 313,
 "layer": [
  {
   "data": {"name": "raman"},
   "mark": {"type": "line", "color": "black", "strokeWidth": 1.3},
   "encoding": {
    "x": {"field": "x", "type": "quantitative", "scale": {"domain": [950, 1850], "nice": false, "zero": false},
      "axis": {"title": "Wavelength (cm⁻¹)", "format": "d", "values": [950,1050,1150,1250,1350,1450,1550,1650,1750,1850], "tickSize": 7, "labelPadding": 7, "titleY": 49, "titleBaseline": "middle"}},
    "y": {"field": "y", "type": "quantitative", "scale": {"domain": [0, 7], "nice": false, "zero": false},
      "axis": {"title": "Intensity (a.u.)", "values": [1,2,3,4,5,6], "labels": false, "ticks": false, "titleX": -34, "titleY": 185, "titleBaseline": "middle"}},
    "detail": {"field": "s"}
   }
  },
  {
   "data": {"values": [{"v": 1}, {"v": 2}, {"v": 3}, {"v": 4}, {"v": 5}, {"v": 6}]},
   "mark": {"type": "rule", "color": "black", "strokeWidth": 1.5},
   "encoding": {
    "y": {"field": "v", "type": "quantitative"},
    "x": {"datum": 950},
    "x2": {"datum": 963.6}
   }
  },
  {
   "data": {"values": [
    {"t": "(1)", "x": 1402, "y": 5.02},
    {"t": "(2)", "x": 1358, "y": 3.34},
    {"t": "(3)", "x": 1504, "y": 2.6},
    {"t": "(4)", "x": 1502, "y": 1.52},
    {"t": "(b)", "x": 899, "y": 6.85}
   ]},
   "mark": {"type": "text", "align": "center", "baseline": "middle", "font": "Liberation Serif", "fontSize": 20},
   "encoding": {
    "x": {"field": "x", "type": "quantitative"},
    "y": {"field": "y", "type": "quantitative"},
    "text": {"field": "t"}
   }
  }
 ]
}
]
}
